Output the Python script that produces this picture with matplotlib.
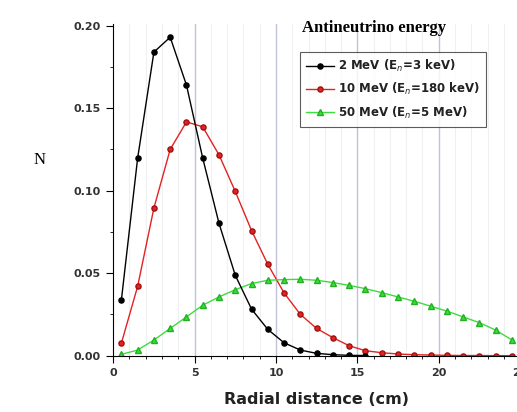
import matplotlib
matplotlib.use("Agg")
import matplotlib.pyplot as plt
from matplotlib.ticker import MultipleLocator, FormatStrFormatter

x_black = [0.5, 1.5, 2.5, 3.5, 4.5, 5.5, 6.5, 7.5, 8.5, 9.5, 10.5, 11.5, 12.5, 13.5, 14.5, 15.5]
y_black = [0.0336, 0.1197, 0.184, 0.193, 0.164, 0.1197, 0.0802, 0.0487, 0.0282, 0.0159,
           0.0078, 0.0034, 0.0014, 0.0006, 0.0002, 0.0001]

x_red = [0.5, 1.5, 2.5, 3.5, 4.5, 5.5, 6.5, 7.5, 8.5, 9.5, 10.5, 11.5, 12.5, 13.5, 14.5,
         15.5, 16.5, 17.5, 18.5, 19.5, 20.5, 21.5, 22.5, 23.5, 24.5]
y_red = [0.0075, 0.042, 0.0895, 0.125, 0.1417, 0.1387, 0.1217, 0.0995, 0.0758, 0.0553,
         0.038, 0.025, 0.0165, 0.0109, 0.006, 0.003, 0.0018, 0.0010, 0.0006, 0.0004,
         0.0002, 0.0001, 0.0001, 0.0, 0.0]

x_green = x_red
y_green = [0.0008, 0.0034, 0.0095, 0.0165, 0.0235, 0.0306, 0.0356, 0.040, 0.0437, 0.0457,
           0.0461, 0.0463, 0.0457, 0.0443, 0.0426, 0.0406, 0.0382, 0.0356, 0.033, 0.030,
           0.027, 0.0235, 0.020, 0.0155, 0.0095]

labels = ["2 MeV (E$_n$=3 keV)", "10 MeV (E$_n$=180 keV)", "50 MeV (E$_n$=5 MeV)"]
legend_title = "Antineutrino energy"
xlabel = "Radial distance (cm)"
ylabel = "N"

fig = plt.figure(figsize=(5.17, 4.12), dpi=100)
ax = fig.add_axes([0.219, 0.1367, 1.006 - 0.219, 0.9417 - 0.1367])

# grid lines
for xv in range(1, 25):
    if xv % 5 == 0:
        ax.axvline(xv, color="#c0c3d6", lw=1.0, zorder=0)
    else:
        ax.axvline(xv, color="#eef0f4", lw=0.8, zorder=0)

ax.plot(x_black, y_black, color="black", lw=1.0, marker="o", ms=3.7,
        mfc="black", mec="black", label=labels[0], zorder=3)
ax.plot(x_red, y_red, color="#e32222", lw=1.0, marker="o", ms=3.7,
        mfc="#e32222", mec="#a01010", label=labels[1], zorder=2)
ax.plot(x_green, y_green, color="#3ddc3d", lw=1.0, marker="^", ms=3.7,
        mfc="#3ddc3d", mec="#22b022", label=labels[2], zorder=2)

ax.set_xlim(0, 25)
ax.set_ylim(0, 0.201)
ax.spines["top"].set_visible(False)
ax.spines["right"].set_visible(False)
ax.xaxis.set_major_locator(MultipleLocator(5))
ax.xaxis.set_minor_locator(MultipleLocator(1))
ax.yaxis.set_major_locator(MultipleLocator(0.05))
ax.yaxis.set_minor_locator(MultipleLocator(0.025))
ax.yaxis.set_major_formatter(FormatStrFormatter("%.2f"))
ax.tick_params(which="major", direction="out", length=5, width=0.8,
               labelsize=8, labelcolor="#333333", pad=4)
ax.tick_params(which="minor", direction="out", length=2.5, width=0.6)
for lab in ax.get_xticklabels() + ax.get_yticklabels():
    lab.set_fontweight("bold")

ax.set_xlabel(xlabel, fontsize=11.5, fontweight="bold", color="#222222", labelpad=10)
fig.text(40 / 517, 1 - 160 / 412, ylabel, fontsize=12, family="Liberation Serif",
         ha="center", va="center")

leg = ax.legend(loc="upper left",
                bbox_to_anchor=((300 - 113.3) / (520 - 113.3), (355.7 - 50.7) / (355.7 - 24) * (0.2 / 0.201)),
                fontsize=8.5, frameon=True, fancybox=False, edgecolor="#333333",
                borderpad=0.5, labelspacing=0.6, handlelength=2.4, handletextpad=0.3,
                borderaxespad=0)
leg.get_frame().set_linewidth(0.8)
for t in leg.get_texts():
    t.set_fontweight("bold")
    t.set_color("#222222")

fig.text(302 / 517, 1 - 28 / 412, legend_title, fontsize=12, fontweight="bold",
         family="Liberation Serif", ha="left", va="center")

fig.savefig("out.png", dpi=100)
